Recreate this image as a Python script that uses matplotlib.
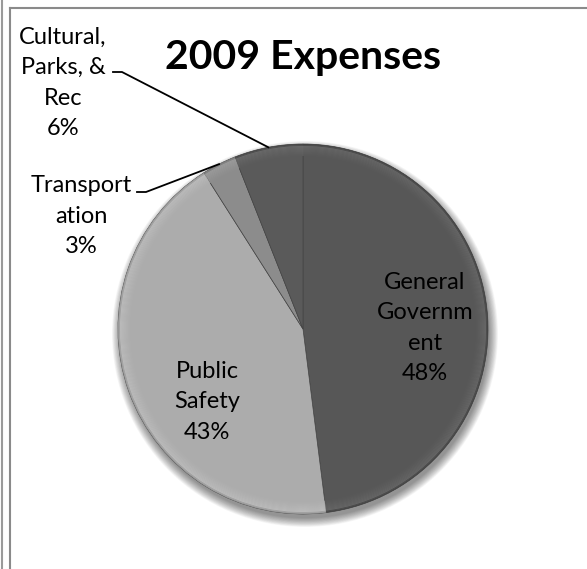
import numpy as np
import matplotlib
matplotlib.use("Agg")
import matplotlib.pyplot as plt
from matplotlib.patches import Wedge, Circle
from matplotlib.lines import Line2D
from matplotlib.colors import to_rgb

# Expense shares for 2009
categories = ["General\nGovernm\nent", "Public\nSafety", "Transport\nation", "Cultural,\nParks, &\nRec"]
shares = [48, 43, 3, 6]
colors = ["#575757", "#acacac", "#8c8c8c", "#5a5a5a"]

W, H = 587, 569
fig = plt.figure(figsize=(W / 100, H / 100), dpi=100)
ax = fig.add_axes([0, 0, 1, 1])
ax.set_xlim(0, W)
ax.set_ylim(0, H)
ax.set_aspect("equal")
ax.axis("off")

font = ["Lato", "DejaVu Sans"]
cx, cy, R = 303, 240, 185

# soft drop shadow under the pie
for i in range(16):
    ax.add_patch(Circle((cx + 2, cy - 5), R + 8 - i * 0.6, color="black",
                        alpha=0.03, lw=0, zorder=1))

wedges, _ = ax.pie(shares, colors=colors, startangle=90, counterclock=False,
                   center=(cx, cy), radius=R, frame=True,
                   wedgeprops=dict(edgecolor="#454545", linewidth=0.5, zorder=2))
ax.set_xlim(0, W)
ax.set_ylim(0, H)
ax.axis("off")

# bevelled rim on each slice
def shade(c, f):
    r = np.array(to_rgb(c))
    return tuple(np.clip(r + f, 0, 1))

for w, c in zip(wedges, colors):
    t1, t2 = w.theta1, w.theta2
    n = 12
    for k in range(n):
        rr = R - k * 1.0
        if k < 2:
            f = -0.07 + 0.03 * k
        else:
            f = 0.06 * (1 - (k - 2) / (n - 2))
        ax.add_patch(Wedge((cx, cy), rr, t1, t2, width=1.0, color=shade(c, f),
                           lw=0, zorder=3))

# slice labels
label_xy = [(425, H - 328), (207, H - 402), (81, H - 216), (63, H - 83)]
fs = 17
for (x, y), name, v in zip(label_xy, categories, shares):
    ax.text(x, y, f"{name}\n{v}%", ha="center", va="center", fontsize=fs,
            family=font, color="black", linespacing=1.55, zorder=5)

# leader lines for the two narrow slices
cum = np.cumsum([0] + shares)
leader_start = {2: (137, H - 192), 3: (113, H - 72)}
for i, (sx, sy) in leader_start.items():
    mid = 90 - 360 * (cum[i] + shares[i] / 2) / 100
    ex = cx + R * np.cos(np.radians(mid))
    ey = cy + R * np.sin(np.radians(mid))
    ax.add_line(Line2D([sx, sx + 9, ex], [sy, sy, ey], color="black", lw=1.3, zorder=6))

ax.text(303, H - 57, "2009 Expenses", ha="center", va="center", fontsize=29.5,
        fontweight="bold", family=font, color="black", zorder=5)

# chart area frame
ax.add_line(Line2D([10, 10], [0, H - 8], color="#8a8a8a", lw=1.5, zorder=7))
ax.add_line(Line2D([10, W], [H - 8, H - 8], color="#8a8a8a", lw=1.5, zorder=7))
ax.add_line(Line2D([2, 2], [0, H], color="#9a9a9a", lw=1.5, zorder=7))

fig.savefig("out.png", dpi=100)
